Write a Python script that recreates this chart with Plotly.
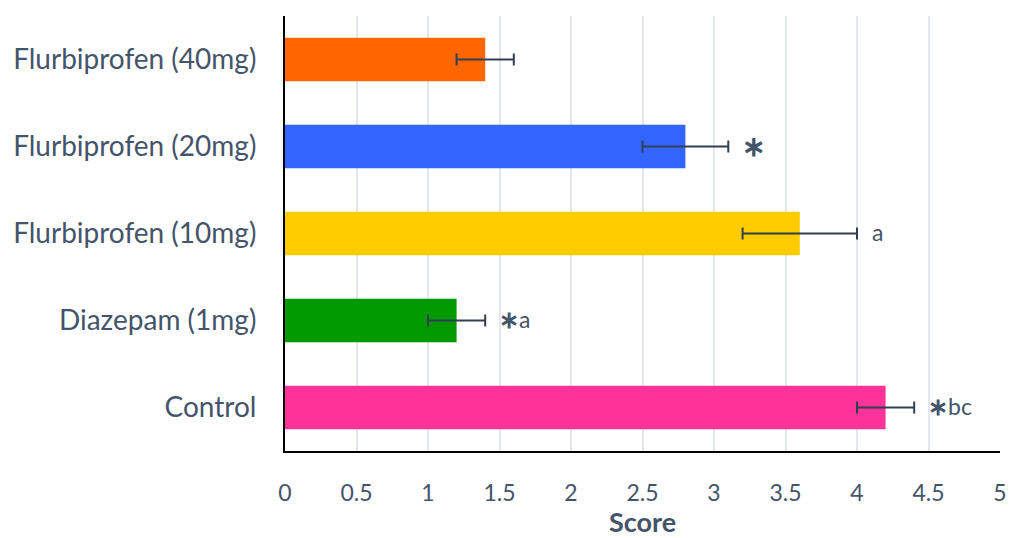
import plotly.graph_objects as go

categories = ["Control", "Diazepam (1mg)", "Flurbiprofen (10mg)", "Flurbiprofen (20mg)", "Flurbiprofen (40mg)"]
values = [4.2, 1.2, 3.6, 2.8, 1.4]
errors = [0.2, 0.2, 0.4, 0.3, 0.2]
colors = ["#FF3399", "#009900", "#FFCC00", "#3366FF", "#FF6600"]
marks = ["\u2217bc", "\u2217a", "a", "\u2217", ""]
tick_vals = [0, 0.5, 1, 1.5, 2, 2.5, 3, 3.5, 4, 4.5, 5]
tick_text = ["0", "0.5", "1", "1.5", "2", "2.5", "3", "3.5", "4", "4.5", "5"]

font_family = "Lato"
text_color = "#44546A"

fig = go.Figure()
fig.add_trace(go.Bar(
    x=values, y=categories, orientation="h",
    marker=dict(color=colors, line=dict(width=0)),
    width=0.5,
    error_x=dict(type="data", array=errors, visible=True, color="#333F50", thickness=2, width=6),
))

for c, v, e, m in zip(categories, values, errors, marks):
    if not m:
        continue
    star_size = 28 if m == "\u2217" else 24
    txt = m.replace("\u2217", f"<span style='font-size:{star_size}px'><b>\u2217</b></span>")
    fig.add_annotation(x=v + e, y=c, text=txt, showarrow=False, xanchor="left",
                       xshift=13 if m == "a" else 12, yshift=2,
                       font=dict(family=font_family, size=23, color=text_color))

fig.update_layout(
    width=1015, height=538,
    margin=dict(l=285, r=15, t=16, b=87),
    paper_bgcolor="white", plot_bgcolor="white",
    showlegend=False,
    font=dict(family=font_family, color=text_color),
    bargap=0.5,
)
fig.update_xaxes(range=[0, 5], tickvals=tick_vals, ticktext=tick_text,
                 showgrid=True, gridcolor="#E2E7EF", gridwidth=1.5,
                 showline=True, linecolor="black", linewidth=2,
                 zeroline=False, ticks="", ticklen=0, automargin=False,
                 ticklabelstandoff=20,
                 tickfont=dict(size=23, color=text_color),
                 title=dict(text="<b>Score</b>", font=dict(size=27, color=text_color), standoff=30))
fig.update_yaxes(showline=True, linecolor="black", linewidth=2, showgrid=False,
                 ticks="", automargin=False, ticklabelstandoff=21,
                 tickfont=dict(size=28, color=text_color))

fig.write_html("out.html", config={"displayModeBar": False},
               post_script="document.body.style.margin='0';")
